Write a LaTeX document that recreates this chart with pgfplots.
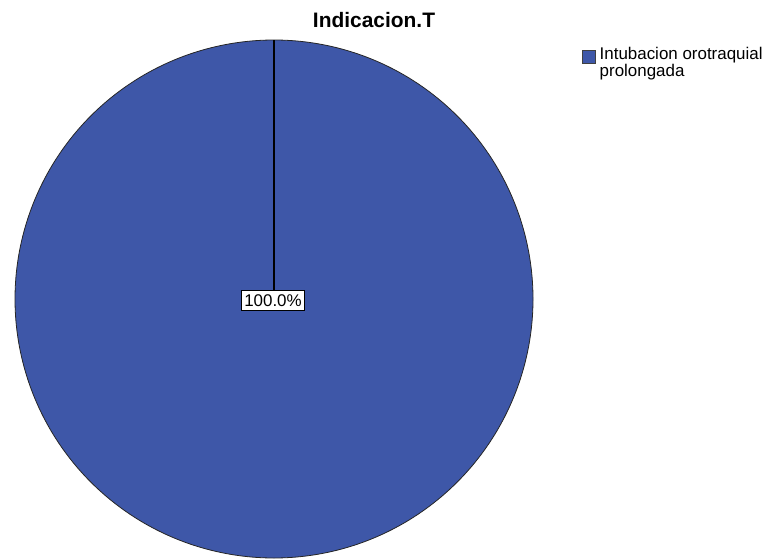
\documentclass[border=0pt]{standalone}
\usepackage{pgfplots}
\usepackage{pgfplotstable}
\pgfplotsset{compat=1.18}
\usepackage{fontspec}
\setmainfont{Liberation Sans}

\definecolor{pieblue}{RGB}{62,87,168}

% category shares (percent)
\pgfplotstableread[col sep=comma]{
category,percent
Intubacion orotraquial prolongada,100.0
}\indicacion

\pgfplotstablegetelem{0}{percent}\of\indicacion
\let\sharevalue\pgfplotsretval
\pgfmathsetmacro{\sliceangle}{3.6*\sharevalue}

\begin{document}
\begin{tikzpicture}
\begin{axis}[
  width=768bp, height=558bp, scale only axis,
  xmin=0, xmax=768, ymin=0, ymax=558,
  y dir=reverse,
  hide axis, clip=false,
  legend style={draw=none, fill=none, at={(axis cs:579,44)}, anchor=north west,
    font=\fontsize{17}{15.5}\selectfont,
    nodes={align=left, inner sep=1bp},
    row sep=0pt, column sep=3bp},
  legend cell align=left,
  legend image code/.code={%
    \draw[fill=pieblue, draw=black!75, line width=0.5bp] (0bp,-1bp) rectangle (13bp,12bp);},
]
% page frame
\path (axis cs:0,0) rectangle (axis cs:768,558);

% pie slice, clockwise from 12 o'clock, centre (274,299), radius 259
\addplot[fill=pieblue, draw=black!85, line width=0.8bp, domain=0:\sliceangle, samples=361, smooth]
  ({274+259*sin(x)}, {299-259*cos(x)});
\addlegendentry{Intubacion orotraquial\\prolongada}

% radial edges of the slice
\addplot[black, line width=1.2bp, forget plot]
  coordinates {(274,299) (274,40)};
\addplot[black, line width=1.2bp, forget plot]
  coordinates {(274,299) ({274+259*sin(\sliceangle)},{299-259*cos(\sliceangle)})};

% value label
\node[draw=black, line width=0.9bp, fill=white, inner xsep=3bp, inner ysep=4bp,
      font=\fontsize{17}{18}\selectfont]
  at (axis cs:273,300.5)
  {\pgfmathprintnumber[fixed, fixed zerofill, precision=1, assume math mode=true]{\sharevalue}\%};

% title
\node[anchor=base, font=\fontsize{21}{25}\selectfont\bfseries]
  at (axis cs:374,28) {Indicacion.T};
\end{axis}
\end{tikzpicture}
\end{document}
